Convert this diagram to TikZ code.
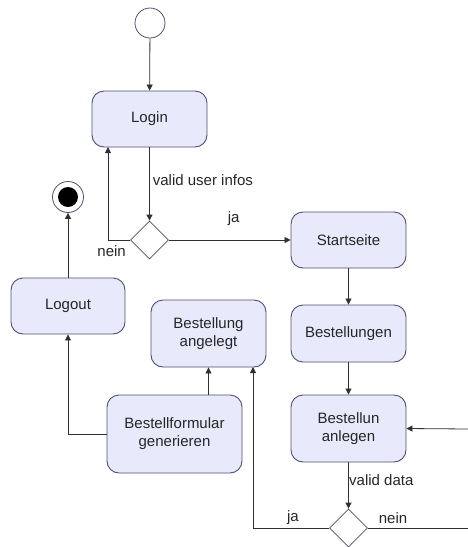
\documentclass[tikz,border=0pt]{standalone}
\usepackage{fontspec}
\setmainfont{Liberation Sans}
\usetikzlibrary{shapes.geometric,arrows.meta}
\definecolor{boxfill}{HTML}{E8EAFB}
\definecolor{boxdraw}{HTML}{50506E}
\definecolor{linecol}{HTML}{303030}
\begin{document}
\begin{tikzpicture}[x=1pt,y=-1pt,
  act/.style={draw=boxdraw,fill=boxfill,rounded corners=12pt,line width=0.9pt,align=center,font=\fontsize{15}{18}\selectfont,text=black!85},
  dec/.style={draw=boxdraw,fill=white,diamond,minimum width=38pt,minimum height=38pt,inner sep=0pt,line width=0.8pt},
  flow/.style={draw=linecol,line width=0.8pt,-{Triangle[length=6pt,width=6pt]}},
  lbl/.style={font=\fontsize{15}{18}\selectfont,text=black!85,inner sep=0pt}]
\useasboundingbox (0,0) rectangle (468,547);
\node[draw=boxdraw,fill=white,circle,minimum size=30pt,inner sep=0pt,line width=0.8pt] (start) at (150,23) {};
\node[act,minimum width=115pt,minimum height=56pt] (login) at (149.5,119) {Login};
\node[dec] (d1) at (149.5,240) {};
\node[act,minimum width=115pt,minimum height=56pt] (start2) at (348.5,240) {Startseite};
\node[act,minimum width=115pt,minimum height=57pt] (best) at (348.5,333.5) {Bestellungen};
\node[act,minimum width=115pt,minimum height=67pt] (anl) at (348.5,428.5) {Bestellun\\anlegen};
\node[dec] (d2) at (348.5,528) {};
\node[act,minimum width=115pt,minimum height=67pt] (ang) at (208.5,333.5) {Bestellung\\angelegt};
\node[act,minimum width=135pt,minimum height=78pt] (form) at (174.5,434) {Bestellformular\\generieren};
\node[act,minimum width=114pt,minimum height=56pt] (logout) at (68,306) {Logout};
\node[draw=boxdraw,fill=white,circle,minimum size=31pt,inner sep=0pt,line width=0.8pt] (end) at (68,197) {};
\node[fill=black,circle,minimum size=20pt,inner sep=0pt] (endin) at (end) {};
\coordinate (rin) at (468,429);
\coordinate (rout) at (468,528);
\coordinate (loginret) at (108,147);
\coordinate (angret) at (253,367);
\draw[flow] (start) -- (login);
\draw[flow] (login) -- (d1) node[lbl,pos=0.45,anchor=west,xshift=3pt] {valid user infos};
\draw[flow] (d1.west) -| (loginret);
\node[lbl,anchor=east] (nein1) at (126,251) {nein};
\draw[flow] (d1.east) -- (start2.west) node[lbl,midway,above=14pt,xshift=4pt] {ja};
\draw[flow] (start2) -- (best);
\draw[flow] (best) -- (anl);
\draw[flow] (rin) -- (anl.east);
\draw[flow] (anl) -- (d2);
\node[lbl,anchor=west] (vd) at (349,480) {valid data};
\draw[flow] (d2.west) -| (angret);
\draw[draw=linecol,line width=0.8pt] (d2.east) -- (rout);
\node[lbl] (ja2) at (293,518) {ja};
\node[lbl] (nein2) at (393,518) {nein};
\draw[flow] (form.north -| ang.south) -- (ang.south);
\draw[flow] (form.west) -| (logout.south);
\draw[flow] (logout) -- (end);
\end{tikzpicture}
\end{document}
